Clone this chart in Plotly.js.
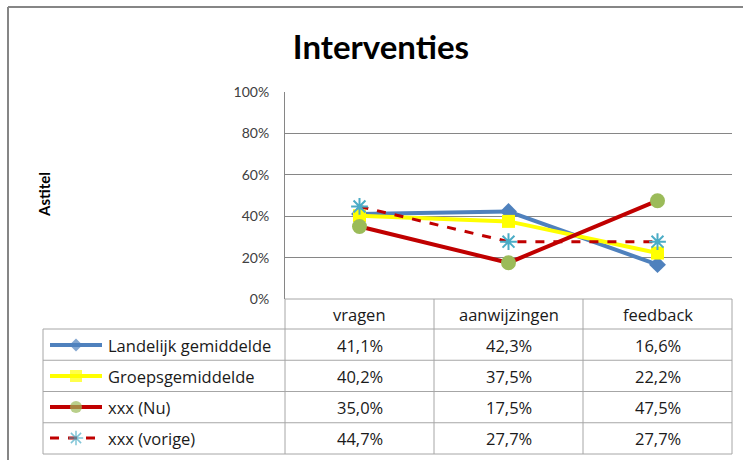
<!DOCTYPE html>
<html>
<head>
<meta charset="utf-8">
<script src="https://cdn.plot.ly/plotly-3.0.1.min.js"></script>
<style>html,body{margin:0;padding:0;background:#fff}#chart{width:743px;height:460px}</style>
</head>
<body>
<div id="chart"></div>
<script>
// ---- data ----
var categories = ["vragen", "aanwijzingen", "feedback"];
var seriesNames = ["Landelijk gemiddelde", "Groepsgemiddelde", "xxx (Nu)", "xxx (vorige)"];
var landelijk = [41.1, 42.3, 16.6];
var groeps = [40.2, 37.5, 22.2];
var nu = [35.0, 17.5, 47.5];
var vorige = [44.7, 27.7, 27.7];
var yTickVals = [0, 20, 40, 60, 80, 100];
var yTickText = ["0%", "20%", "40%", "60%", "80%", "100%"];

// ---- styles ----
var W = 743, H = 460;
function px(x) { return x / W; }
function py(y) { return 1 - y / H; }
var FONT = "'Open Sans', sans-serif";
var TFONT = "Lato, sans-serif";
var styles = [
  {line: {color: "#4F81BD", width: 4}, marker: {symbol: "diamond", size: 13, color: "#4F81BD", line: {width: 0}}},
  {line: {color: "#FFFF00", width: 4}, marker: {symbol: "square", size: 13, color: "#FFFF00", line: {width: 0}}},
  {line: {color: "#C00000", width: 4}, marker: {symbol: "circle", size: 15, color: "#9BBB59", line: {width: 0}}},
  {line: {color: "#C00000", width: 3, dash: "dash"}, marker: {symbol: "asterisk-open", size: 14, color: "#4BACC6", line: {color: "#4BACC6", width: 2}}}
];
var swatchSizes = [10, 12, 12, 12];
var values = [landelijk, groeps, nu, vorige];

var plotL = 285, plotR = 732, plotT = 92, plotB = 299;
var rowCenters = [345, 376, 407, 438];
var tableL = 43, tableB = 454;

var traces = [];
values.forEach(function (v, i) {
  traces.push({
    type: "scatter", mode: "lines+markers",
    x: [0, 1, 2], y: v, name: seriesNames[i],
    line: styles[i].line, marker: styles[i].marker,
    showlegend: false, hoverinfo: "skip", cliponaxis: false,
    xaxis: "x", yaxis: "y"
  });
});
// legend swatches inside data table (pixel overlay axis)
values.forEach(function (v, i) {
  var m = JSON.parse(JSON.stringify(styles[i].marker));
  m.size = [0, swatchSizes[i], 0];
  if (i === 3) m.line.width = 1.5;
  traces.push({
    type: "scatter", mode: "lines+markers",
    x: [50, 76, 102], y: [rowCenters[i], rowCenters[i], rowCenters[i]],
    line: styles[i].line, marker: m,
    showlegend: false, hoverinfo: "skip", cliponaxis: false,
    xaxis: "x2", yaxis: "y2"
  });
});

var shapes = [];
var gridC = "#A6A6A6";
// outer chart frame
shapes.push({type: "line", xref: "paper", yref: "paper", x0: px(8), x1: px(8), y0: py(7), y1: py(460), line: {color: "#868686", width: 2}});
shapes.push({type: "line", xref: "paper", yref: "paper", x0: px(8), x1: px(743), y0: py(7), y1: py(7), line: {color: "#868686", width: 2}});
// table horizontal lines
shapes.push({type: "line", xref: "paper", yref: "paper", x0: px(plotL), x1: px(plotR), y0: py(plotB), y1: py(plotB), line: {color: gridC, width: 1}});
for (var r = 0; r <= 4; r++) {
  shapes.push({type: "line", xref: "paper", yref: "paper", x0: px(tableL), x1: px(plotR), y0: py(329 + r * 31.25), y1: py(329 + r * 31.25), line: {color: gridC, width: 1}});
}
// table vertical lines
[plotL, plotL + 149, plotL + 298, plotR].forEach(function (xv) {
  shapes.push({type: "line", xref: "paper", yref: "paper", x0: px(xv), x1: px(xv), y0: py(plotB), y1: py(tableB), line: {color: gridC, width: 1}});
});
shapes.push({type: "line", xref: "paper", yref: "paper", x0: px(tableL), x1: px(tableL), y0: py(329), y1: py(tableB), line: {color: gridC, width: 1}});

var annotations = [];
categories.forEach(function (c, j) {
  annotations.push({xref: "x", yref: "paper", x: j, y: py(314), text: c, showarrow: false, xanchor: "center", yanchor: "middle", font: {family: FONT, size: 16.5, color: "#1a1a1a"}});
});
values.forEach(function (v, i) {
  annotations.push({xref: "paper", yref: "paper", x: px(106), y: py(rowCenters[i]), text: seriesNames[i], showarrow: false, xanchor: "left", yanchor: "middle", font: {family: FONT, size: 16.5, color: "#1a1a1a"}});
  v.forEach(function (val, j) {
    annotations.push({xref: "x", yref: "paper", x: j, y: py(rowCenters[i]), text: val.toFixed(1).replace(".", ",") + "%", showarrow: false, xanchor: "center", yanchor: "middle", font: {family: FONT, size: 16.5, color: "#1a1a1a"}});
  });
});
annotations.push({xref: "paper", yref: "paper", x: px(44), y: py(195), text: "<b>Astitel</b>", textangle: -90, showarrow: false, xanchor: "center", yanchor: "middle", font: {family: TFONT, size: 15, color: "#000"}});

var layout = {
  width: W, height: H,
  margin: {l: 0, r: 0, t: 0, b: 0},
  paper_bgcolor: "#fff", plot_bgcolor: "rgba(0,0,0,0)",
  showlegend: false,
  title: {text: "<b>Interventies</b>", x: px(381), y: py(47), xanchor: "center", yanchor: "middle", xref: "paper", yref: "paper", font: {family: TFONT, size: 33, color: "#000"}},
  xaxis: {domain: [px(plotL), px(plotR)], range: [-0.5, 2.5], showticklabels: false, showgrid: false, zeroline: false, showline: false, ticks: "", fixedrange: true},
  yaxis: {domain: [py(plotB), py(plotT)], range: [0, 100], tickvals: yTickVals, ticktext: yTickText, showgrid: true, gridcolor: "#868686", gridwidth: 1, zeroline: false, showline: true, linecolor: "#868686", linewidth: 1, ticks: "", ticklabelstandoff: 12, tickfont: {family: TFONT, size: 14, color: "#404040"}, fixedrange: true},
  xaxis2: {domain: [0, 1], range: [0, W], visible: false, fixedrange: true, anchor: "y2"},
  yaxis2: {domain: [0, 1], range: [H, 0], visible: false, fixedrange: true, anchor: "x2"},
  shapes: shapes,
  annotations: annotations
};
Plotly.newPlot("chart", traces, layout, {displayModeBar: false, staticPlot: true});
</script>
</body>
</html>
